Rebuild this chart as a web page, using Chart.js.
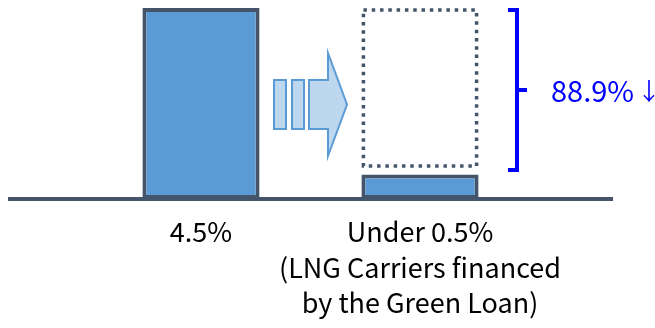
<!DOCTYPE html>
<html>
<head>
<meta charset="utf-8">
<script src="https://cdn.jsdelivr.net/npm/chart.js@4"></script>
<style>
  html, body { margin: 0; padding: 0; background: #fff; }
  #wrap { width: 655px; height: 328px; }
</style>
</head>
<body>
<div id="wrap"><canvas id="myChart"></canvas></div>
<script>
const categories = ['4.5%', ['Under 0.5%', '(LNG Carriers financed', 'by the Green Loan)']];
const shareValues = [4.5, 0.58];
// dotted "before" outline over the second bar: [bottom, top]
const reducedRange = [null, [0.73, 4.5]];
const reductionLabel = '88.9%';
const reductionArrow = '\u2193';

const barColor = '#5b9bd5';
const edgeColor = '#44546a';
const fontName = "'Noto Sans CJK KR', 'Noto Sans', sans-serif";

const decorations = {
  id: 'decorations',
  afterDatasetsDraw(chart) {
    const ctx = chart.ctx;
    const y = chart.scales.y;
    const ghost = chart.getDatasetMeta(1).data[1];

    // baseline
    ctx.save();
    ctx.strokeStyle = edgeColor;
    ctx.lineWidth = 4;
    ctx.beginPath();
    ctx.moveTo(8, y.getPixelForValue(0));
    ctx.lineTo(613, y.getPixelForValue(0));
    ctx.stroke();

    // dotted outline
    const left = ghost.x - ghost.width / 2 + 2;
    const right = ghost.x + ghost.width / 2 - 2;
    const top = ghost.y + 2;
    const bottom = ghost.base - 2;
    ctx.lineWidth = 3.5;
    ctx.setLineDash([3.5, 4.8]);
    ctx.strokeRect(left, top, right - left, bottom - top);
    ctx.setLineDash([]);

    // arrow
    ctx.fillStyle = '#bdd7ee';
    ctx.strokeStyle = barColor;
    ctx.lineWidth = 2;
    [[274, 286], [292, 304]].forEach(r => {
      ctx.fillRect(r[0], 80, r[1] - r[0], 49);
      ctx.strokeRect(r[0], 80, r[1] - r[0], 49);
    });
    ctx.beginPath();
    ctx.moveTo(309, 80);
    ctx.lineTo(328, 80);
    ctx.lineTo(328, 53);
    ctx.lineTo(347, 104.5);
    ctx.lineTo(328, 156);
    ctx.lineTo(328, 129);
    ctx.lineTo(309, 129);
    ctx.closePath();
    ctx.fill();
    ctx.stroke();

    // bracket
    const bTop = y.getPixelForValue(4.5) + 2;
    const bBot = y.getPixelForValue(0.73) + 2;
    const bMid = (bTop + bBot) / 2;
    ctx.strokeStyle = '#0000ff';
    ctx.lineWidth = 4;
    ctx.beginPath();
    ctx.moveTo(508, bTop);
    ctx.lineTo(517, bTop);
    ctx.lineTo(517, bBot);
    ctx.lineTo(508, bBot);
    ctx.moveTo(517, bMid);
    ctx.lineTo(527, bMid);
    ctx.stroke();

    ctx.fillStyle = '#0000ff';
    ctx.font = '29px ' + fontName;
    ctx.textBaseline = 'middle';
    ctx.textAlign = 'left';
    ctx.fillText(reductionLabel, 551, bMid + 1);
    ctx.font = '24px ' + fontName;
    ctx.textAlign = 'center';
    ctx.fillText(reductionArrow, 649, bMid + 1);
    ctx.restore();
  }
};

new Chart(document.getElementById('myChart'), {
  type: 'bar',
  data: {
    labels: categories,
    datasets: [{
      data: shareValues,
      backgroundColor: barColor,
      borderColor: edgeColor,
      borderWidth: 4,
      borderSkipped: false,
      grouped: false
    }, {
      data: reducedRange,
      backgroundColor: 'rgba(0,0,0,0)',
      borderWidth: 0,
      grouped: false
    }]
  },
  options: {
    responsive: true,
    maintainAspectRatio: false,
    animation: false,
    layout: { padding: { left: 91.5, right: 125.5, top: 8, bottom: 0 } },
    datasets: { bar: { categoryPercentage: 1, barPercentage: 0.535 } },
    plugins: { legend: { display: false }, tooltip: { enabled: false } },
    scales: {
      x: {
        grid: { display: false, drawTicks: false },
        border: { display: false },
        afterFit(scale) { scale.height = 129; },
        ticks: {
          color: '#000',
          padding: 15,
          font: { family: fontName, size: 27, lineHeight: 1.32 },
          maxRotation: 0,
          autoSkip: false
        }
      },
      y: {
        display: false,
        min: 0,
        max: 4.5
      }
    }
  },
  plugins: [decorations]
});
</script>
</body>
</html>
